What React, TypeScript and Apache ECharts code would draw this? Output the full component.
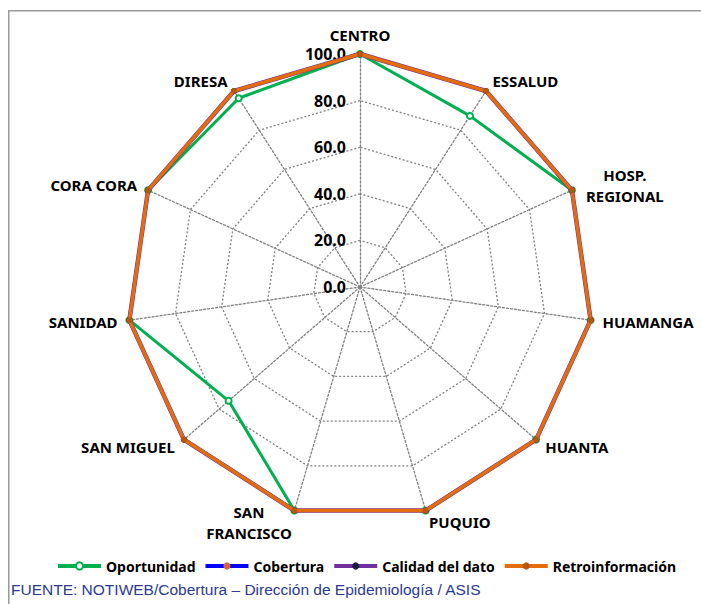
import React, { useEffect, useRef } from "react";
import * as echarts from "echarts";

// Indicators in clockwise order starting at the top
const categories = [
  "CENTRO",
  "ESSALUD",
  "HOSP. REGIONAL",
  "HUAMANGA",
  "HUANTA",
  "PUQUIO",
  "SAN FRANCISCO",
  "SAN MIGUEL",
  "SANIDAD",
  "CORA CORA",
  "DIRESA",
];

const oportunidad = [100, 87.3, 100, 100, 100, 100, 100, 74.6, 100, 100, 96.3];
const cobertura = [100, 100, 100, 100, 100, 100, 100, 100, 100, 100, 100];
const calidad = [100, 100, 100, 100, 100, 100, 100, 100, 100, 100, 100];
const retroinformacion = [100, 100, 100, 100, 100, 100, 100, 100, 100, 100, 100];

const seriesNames = ["Oportunidad", "Cobertura", "Calidad del dato", "Retroinformación"];
const tickMin = 0;
const tickMax = 100;

const footerText = "FUENTE: NOTIWEB/Cobertura – Dirección de Epidemiología / ASIS";

// ECharts radar runs counter-clockwise; reorder so the picture runs clockwise
const ccw = <T,>(arr: T[]): T[] => [arr[0], ...arr.slice(1).reverse()];

const FONT = "'Noto Sans', 'Open Sans', sans-serif";

export default function App() {
  const ref = useRef<HTMLDivElement>(null);

  useEffect(() => {
    if (!ref.current) return;
    const chart = echarts.init(ref.current, undefined, { renderer: "svg" });

    const styles = [
      { line: "#00b050", width: 3, symbol: "emptyCircle", mark: "#00b050", size: 6 },
      { line: "#0000ff", width: 3, symbol: "circle", mark: "#d9603b", size: 6 },
      { line: "#7030a0", width: 4.5, symbol: "circle", mark: "#1c1c3c", size: 6 },
      { line: "#e46c0a", width: 3.5, symbol: "circle", mark: "#b8560d", size: 6 },
    ];
    const values = [oportunidad, cobertura, calidad, retroinformacion];

    const indicator = ccw(categories).map((name, i) => {
      const ind: any = { name, min: tickMin, max: tickMax };
      if (i === 0) {
        ind.axisLabel = {
          show: true,
          formatter: (v: number) => v.toFixed(1),
          color: "#000",
          fontWeight: "bold",
          fontSize: 16,
          fontFamily: FONT,
          margin: 14,
        };
      }
      return ind;
    });

    const legendSeries = seriesNames.map((name, i) => ({
      type: "line",
      name,
      xAxisIndex: 0,
      yAxisIndex: 0,
      data: [],
      symbol: styles[i].symbol,
      symbolSize: styles[i].size,
      lineStyle: { color: styles[i].line, width: 4 },
      itemStyle: { color: styles[i].mark },
    }));

    const radarSeries = seriesNames.map((name, i) => ({
      type: "radar",
      name,
      symbol: styles[i].symbol,
      symbolSize: styles[i].size,
      lineStyle: { color: styles[i].line, width: styles[i].width },
      itemStyle: { color: styles[i].mark, borderWidth: i === 0 ? 1.5 : 0 },
      data: [{ name, value: ccw(values[i]) }],
      z: 2 + i,
    }));

    chart.setOption({
      animation: false,
      backgroundColor: "#ffffff",
      grid: { left: -200, top: -200, width: 10, height: 10, show: false },
      xAxis: { type: "value", show: false },
      yAxis: { type: "value", show: false },
      title: {
        text: footerText,
        left: 11,
        top: 581,
        padding: 0,
        textStyle: {
          fontFamily: "'Liberation Sans', Arial, sans-serif",
          fontSize: 15.5,
          fontWeight: "normal",
          color: "#2b3a92",
        },
      },
      legend: {
        data: seriesNames,
        left: 56,
        top: 559,
        padding: 0,
        itemGap: 8,
        itemWidth: 43,
        itemHeight: 9,
        lineStyle: { width: 4 },
        selectedMode: false,
        textStyle: { fontFamily: FONT, fontSize: 14, fontWeight: "bold", color: "#000" },
      },
      radar: {
        center: [360, 287],
        radius: 233,
        startAngle: 90,
        splitNumber: 5,
        shape: "polygon",
        nameGap: 12,
        indicator,
        axisName: {
          color: "#000",
          fontWeight: "bold",
          fontSize: 15,
          fontFamily: FONT,
          formatter: (name: string) => {
            if (name === "HOSP. REGIONAL") return "{c|HOSP.}\n{c|REGIONAL}";
            if (name === "SAN FRANCISCO") return "{c|SAN}\n{c|FRANCISCO}";
            return name;
          },
          rich: {
            c: {
              width: 84,
              align: "center",
              color: "#000",
              fontWeight: "bold",
              fontSize: 15,
              fontFamily: FONT,
              lineHeight: 21,
            },
          },
        },
        axisLine: { lineStyle: { color: "#808080", type: [2, 2], width: 1.3 } },
        splitLine: { lineStyle: { color: "#808080", type: [2, 2], width: 1.3 } },
        splitArea: { show: false },
        axisTick: { show: false },
        axisLabel: { show: false },
      },
      graphic: [
        {
          type: "rect",
          silent: true,
          shape: { x: 8.75, y: 10.75, width: 1200, height: 1200 },
          style: { fill: "none", stroke: "#9a9a9a", lineWidth: 1.5 },
        },
      ],
      series: [...legendSeries, ...radarSeries],
    });

    return () => chart.dispose();
  }, []);

  return (
    <div
      ref={ref}
      style={{ position: "fixed", left: 0, top: 0, width: 701, height: 604, background: "#fff" }}
    />
  );
}
